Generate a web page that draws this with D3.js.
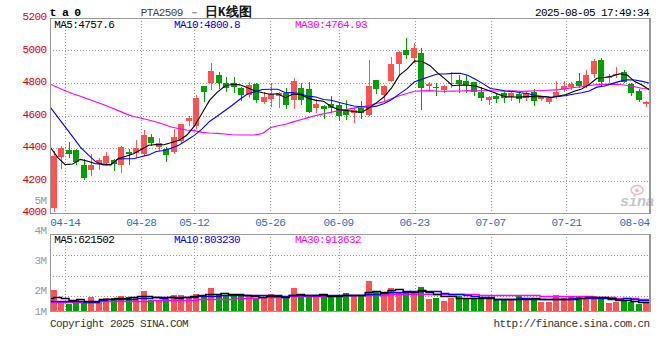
<!DOCTYPE html>
<html><head><meta charset="utf-8">
<script src="https://cdn.jsdelivr.net/npm/d3@7"></script>
<style>
body{margin:0;background:#fff}
svg{display:block}
text{font-family:"Liberation Mono","DejaVu Sans Mono",monospace;}
</style>
</head><body><svg id="c" width="660" height="360"></svg>
<script>
// ---------- data ----------
const dates = ["04-10","04-11","04-14","04-15","04-16","04-17","04-18","04-21","04-22","04-23",
"04-24","04-25","04-28","04-29","04-30","05-06","05-07","05-08","05-09","05-12",
"05-13","05-14","05-15","05-16","05-19","05-20","05-21","05-22","05-23","05-26",
"05-27","05-28","05-29","05-30","06-03","06-04","06-05","06-06","06-09","06-10",
"06-11","06-12","06-13","06-16","06-17","06-18","06-19","06-20","06-23","06-24",
"06-25","06-26","06-27","06-30","07-01","07-02","07-03","07-04","07-07","07-08",
"07-09","07-10","07-11","07-14","07-15","07-16","07-17","07-18","07-21","07-22",
"07-23","07-24","07-25","07-28","07-29","07-30","07-31","08-01","08-04","08-05"];
const open  = [4029,4346,4388,4388,4295,4265,4302,4306,4326,4295,4377,4367,4363,4468,4404,4394,4377,4445,4568,4535,
4782,4802,4849,4802,4798,4771,4726,4794,4685,4700,4720,4737,4695,4771,4763,4644,4658,4669,4665,4630,
4617,4644,4603,4818,4726,4814,4917,5003,4956,4983,4783,4777,4757,4792,4818,4812,4808,4746,4695,4722,
4737,4712,4732,4706,4746,4700,4685,4712,4761,4774,4812,4783,4855,4943,4829,4849,4870,4794,4751,4673];
const high  = [4382,4412,4435,4394,4330,4361,4337,4377,4332,4412,4392,4449,4511,4484,4463,4404,4515,4548,4597,4726,
4782,4925,4870,4835,4835,4777,4804,4802,4746,4800,4746,4767,4833,4798,4804,4700,4665,4720,4685,4695,
4644,4689,4942,4818,4788,4962,4997,5075,5044,5014,4808,4798,4788,4870,4849,4849,4808,4777,4720,4737,
4745,4746,4746,4751,4763,4722,4716,4812,4812,4808,4863,4880,4946,4956,4854,4897,4880,4798,4761,4691];
const low   = [4014,4279,4346,4302,4209,4234,4271,4295,4265,4254,4302,4346,4357,4418,4388,4322,4367,4433,4542,4521,
4689,4761,4767,4753,4746,4695,4716,4685,4675,4660,4654,4644,4644,4671,4623,4623,4583,4623,4572,4578,
4562,4586,4603,4740,4695,4814,4855,4952,4931,4640,4757,4726,4746,4777,4746,4746,4726,4695,4669,4685,
4685,4695,4685,4695,4665,4695,4675,4706,4751,4763,4777,4777,4839,4783,4808,4839,4804,4726,4689,4660];
const close = [4353,4402,4363,4316,4217,4295,4326,4351,4300,4408,4363,4402,4480,4433,4429,4357,4470,4548,4586,4710,
4746,4874,4798,4771,4774,4726,4788,4695,4716,4730,4740,4665,4812,4695,4623,4671,4640,4648,4597,4603,
4634,4614,4782,4763,4783,4917,4989,4972,5014,4771,4794,4767,4783,4802,4792,4788,4746,4706,4716,4702,
4706,4740,4702,4737,4691,4716,4710,4746,4782,4794,4783,4849,4937,4808,4835,4855,4808,4737,4695,4681];
const volume = [1579000,752000,526000,827000,774000,1075000,752000,955000,955000,1128000,
1075000,1075000,1504000,827000,827000,902000,1203000,1203000,955000,1278000,
1203000,1752000,1278000,1150000,1150000,1128000,1150000,1000000,1000000,1278000,
1203000,955000,1752000,1150000,1150000,1075000,1150000,1203000,1150000,1376000,
1150000,1150000,2278000,1451000,1278000,1752000,1451000,1504000,1331000,1827000,
902000,1000000,752000,1000000,1128000,902000,1000000,902000,902000,827000,
827000,902000,1128000,1000000,1000000,654000,699000,1203000,955000,1075000,
1150000,955000,1128000,902000,624000,699000,752000,699000,526000,579000];
// moving-average values before enough visible history exists
const ma5Head  = [4408,4342,4298,4302];
const ma10Head = [4654,4592,4530,4468,4406,4359,4316,4295,4295];
const ma30Head = [4794,4772,4752,4734,4718,4701,4684,4668,4649,4630,4610,4594,4583,4572,4560,4544,4529,4519,4511,4507,4496,4492,4490,4486,4482,4480,4480,4481,4489];
const volMa5Head  = [1000000,1050000,1000000,850000];
const volMa10Head = [750000,750000,750000,750000,720000,660000,660000,850000,880000];
const volMa30Head = [650000,650000,680000,700000,700000,700000,700000,720000,750000,750000,750000,750000,750000,780000,800000,830000,830000,830000,830000,850000,880000,900000,900000,920000,940000,960000,980000,1000000,1030000];
const priceTicks = [5200,5000,4800,4600,4400,4200,4000];
const priceGrid  = [5000,4800,4600,4400,4200];
const volTickLabels = ["5M","4M","3M","2M","1M"];
const volTickValues = [5e6,4e6,3e6,2e6,1e6];
const dateTicks = ["04-14","04-28","05-12","05-26","06-09","06-23","07-07","07-21","08-04"];
const priceLegend = [{t:"MA5:4757.6",c:"#000"},{t:"MA10:4800.8",c:"#0000ff"},{t:"MA30:4764.93",c:"#ff00ff"}];
const volLegend   = [{t:"MA5:621502",c:"#000"},{t:"MA10:803230",c:"#0000ff"},{t:"MA30:913632",c:"#ff00ff"}];

// ---------- helpers ----------
function movingAvg(vals, n, head){
  return vals.map((v,i)=> i < n-1 ? head[i] : d3.mean(vals.slice(i-n+1, i+1)));
}
const N = close.length;
const idx = d3.range(N);
const UP = "#ff5252", DOWN = "#00a000";
const colorOf = i => close[i] >= open[i] ? UP : DOWN;

const svg = d3.select("#c");
svg.append("rect").attr("width",660).attr("height",360).attr("fill","#fff");

const L = 50, R = 650;
const xBand = d3.scaleBand().domain(idx).range([L,R]).padding(0);
const xPt = d3.scalePoint().domain(idx).range([L,R]);
const yP = d3.scaleLinear().domain([4000,5200]).range([213,18]);
const yV = d3.scaleLinear().domain([0,5.8e6]).range([311,234]);
const yVLab = d3.scaleLinear().domain([2e6,5e6]).range([294,204]);

const GRID = "#999";
// ---------- grids ----------
const g = svg.append("g");
g.selectAll(".hg").data(priceGrid).join("line")
  .attr("x1",L).attr("x2",R).attr("y1",d=>Math.round(yP(d))+0.5).attr("y2",d=>Math.round(yP(d))+0.5)
  .attr("stroke",GRID).attr("stroke-dasharray","1,2");
const volGridY = [255,275.7,295.7].map(y=>yV.invert(y));
g.selectAll(".vg").data(volGridY).join("line")
  .attr("x1",L).attr("x2",R).attr("y1",d=>Math.round(yV(d))+0.5).attr("y2",d=>Math.round(yV(d))+0.5)
  .attr("stroke",GRID).attr("stroke-dasharray","1,2");
const tickIdx = dateTicks.map(t=>dates.indexOf(t));
const gridIdx = tickIdx.filter(i=> R - xPt(i) > 10);
[[18,213],[234,311]].forEach(([y1,y2])=>{
  g.selectAll(null).data(gridIdx).join("line")
    .attr("x1",i=>Math.round(xPt(i))+0.5).attr("x2",i=>Math.round(xPt(i))+0.5)
    .attr("y1",y1).attr("y2",y2)
    .attr("stroke",GRID).attr("stroke-dasharray","1,2");
});

// ---------- candles ----------
const cg = svg.append("g").attr("shape-rendering","crispEdges");
cg.selectAll(".wick").data(idx).join("line")
  .attr("x1",i=>Math.round(xBand(i)+0.75)+3.5).attr("x2",i=>Math.round(xBand(i)+0.75)+3.5)
  .attr("y1",i=>Math.round(yP(high[i]))).attr("y2",i=>Math.round(yP(low[i]))+1)
  .attr("stroke",colorOf).attr("stroke-width",1);
cg.selectAll(".body").data(idx).join("rect")
  .attr("x",i=>Math.round(xBand(i)+0.75))
  .attr("width",Math.round(xBand.bandwidth()*0.8))
  .attr("y",i=>Math.round(yP(Math.max(open[i],close[i]))))
  .attr("height",i=>Math.max(1,Math.round(yP(Math.min(open[i],close[i])))-Math.round(yP(Math.max(open[i],close[i])))))
  .attr("fill",colorOf);

// ---------- volume bars ----------
cg.selectAll(".vbar").data(idx).join("rect")
  .attr("x",i=>Math.round(xBand(i)+0.75))
  .attr("width",Math.round(xBand.bandwidth()*0.8))
  .attr("y",i=>Math.round(yV(volume[i])))
  .attr("height",i=>Math.round(yV(0))-Math.round(yV(volume[i])))
  .attr("fill",colorOf);

// ---------- moving averages ----------
svg.append("clipPath").attr("id","cp").append("rect").attr("x",L).attr("y",18).attr("width",R-L).attr("height",195);
const ma5 = movingAvg(close,5,ma5Head), ma10 = movingAvg(close,10,ma10Head), ma30 = movingAvg(close,30,ma30Head);
const pLine = d3.line().x((d,i)=>xPt(i)).y(d=>yP(d));
const mg = svg.append("g").attr("clip-path","url(#cp)");
[[ma30,"#ff00ff"],[ma10,"#0000ff"],[ma5,"#000"]].forEach(([arr,c])=>{
  mg.append("path").attr("d",pLine(arr)).attr("fill","none").attr("stroke",c).attr("stroke-width",1.1);
});
const vma5 = movingAvg(volume,5,volMa5Head), vma10 = movingAvg(volume,10,volMa10Head), vma30 = movingAvg(volume,30,volMa30Head);
const vLine = d3.line().x((d,i)=>xPt(i)).y(d=>Math.round(yV(d))+0.5).curve(d3.curveStep);
[[vma30,"#ff00ff"],[vma10,"#0000ff"],[vma5,"#000"]].forEach(([arr,c])=>{
  svg.append("path").attr("d",vLine(arr)).attr("fill","none").attr("stroke",c).attr("stroke-width",1.4);
});

// ---------- frames ----------
const fr = svg.append("g").attr("stroke","#999").attr("fill","none").attr("shape-rendering","crispEdges");
fr.append("line").attr("x1",L).attr("x2",R).attr("y1",18.5).attr("y2",18.5);
fr.append("line").attr("x1",L).attr("x2",R).attr("y1",213.5).attr("y2",213.5);
fr.append("line").attr("x1",L).attr("x2",R).attr("y1",234.5).attr("y2",234.5);
fr.append("line").attr("x1",L).attr("x2",R).attr("y1",311.5).attr("y2",311.5);
fr.append("line").attr("x1",50.5).attr("x2",50.5).attr("y1",18).attr("y2",214);
fr.append("line").attr("x1",50.5).attr("x2",50.5).attr("y1",234).attr("y2",312);
fr.append("line").attr("x1",649.5).attr("x2",649.5).attr("y1",18).attr("y2",214).attr("stroke-width",2);
fr.append("line").attr("x1",649.5).attr("x2",649.5).attr("y1",234).attr("y2",312).attr("stroke-width",2);

// ---------- axis labels ----------
const mono = sel => sel.attr("font-size",11).attr("letter-spacing",-0.6);
svg.selectAll(".pl").data(priceTicks).join("text").call(mono)
  .attr("x",46.5).attr("y",d=>yP(d)+2).attr("text-anchor","end").attr("fill","#e00000").text(d=>d);
svg.selectAll(".vl").data(volTickValues).join("text").call(mono)
  .attr("x",46.5).attr("y",d=>Math.min(yVLab(d),315)).attr("text-anchor","end").attr("fill","#999")
  .text((d,i)=>volTickLabels[i]);
svg.selectAll(".dl").data(tickIdx).join("text").call(mono)
  .attr("x",i=>Math.min(xPt(i), 649.5-15)).attr("y",225.5).attr("text-anchor","middle").attr("fill","#1c74c8")
  .text(i=>dates[i]);

// ---------- legends ----------
const lx = [54.3,174,295];
svg.selectAll(".lg").data(priceLegend).join("text").call(mono)
  .attr("x",(d,i)=>lx[i]).attr("y",27.5).attr("fill",d=>d.c).text(d=>d.t);
svg.selectAll(".vlg").data(volLegend).join("text").call(mono)
  .attr("x",(d,i)=>lx[i]).attr("y",242.5).attr("fill",d=>d.c).text(d=>d.t);

// ---------- header ----------
svg.append("text").attr("x",49.5).attr("y",16).attr("font-size",11.5).attr("font-weight","bold")
  .attr("letter-spacing",-0.7).attr("font-family","DejaVu Sans Mono").attr("fill","#000").text("t a 0");
svg.append("text").call(mono).attr("x",140.7).attr("y",15.5).attr("fill","#444").text("PTA2509");
svg.append("text").call(mono).attr("x",189).attr("y",15.5).attr("fill","#444").text("－");
svg.append("text").attr("x",205).attr("y",15.5).attr("font-size",12.5)
  .attr("font-family","Noto Sans CJK SC").attr("font-weight","bold").attr("fill","#111").text("日K线图");
svg.append("text").call(mono).attr("x",649).attr("y",16).attr("text-anchor","end").attr("fill","#000")
  .text("2025-08-05 17:49:34");

// ---------- footer ----------
svg.append("text").call(mono).attr("x",50).attr("y",327).attr("fill","#333").text("Copyright 2025 SINA.COM");
svg.append("text").call(mono).attr("x",649.5).attr("y",327).attr("text-anchor","end").attr("fill","#333").text("http://finance.sina.com.cn");

// ---------- watermark ----------
const wm = svg.append("g").attr("opacity",0.55);
wm.append("ellipse").attr("cx",637).attr("cy",190).attr("rx",6).attr("ry",4.5).attr("fill","none").attr("stroke","#f08080").attr("stroke-width",1.5);
wm.append("circle").attr("cx",637).attr("cy",190.5).attr("r",1.8).attr("fill","#f08080");
wm.append("text").attr("x",620).attr("y",206).attr("font-family","DejaVu Sans").attr("font-size",15)
  .attr("font-style","italic").attr("font-weight","bold").attr("fill","#999").attr("letter-spacing",-0.5).text("sina");
</script>
</body></html>
